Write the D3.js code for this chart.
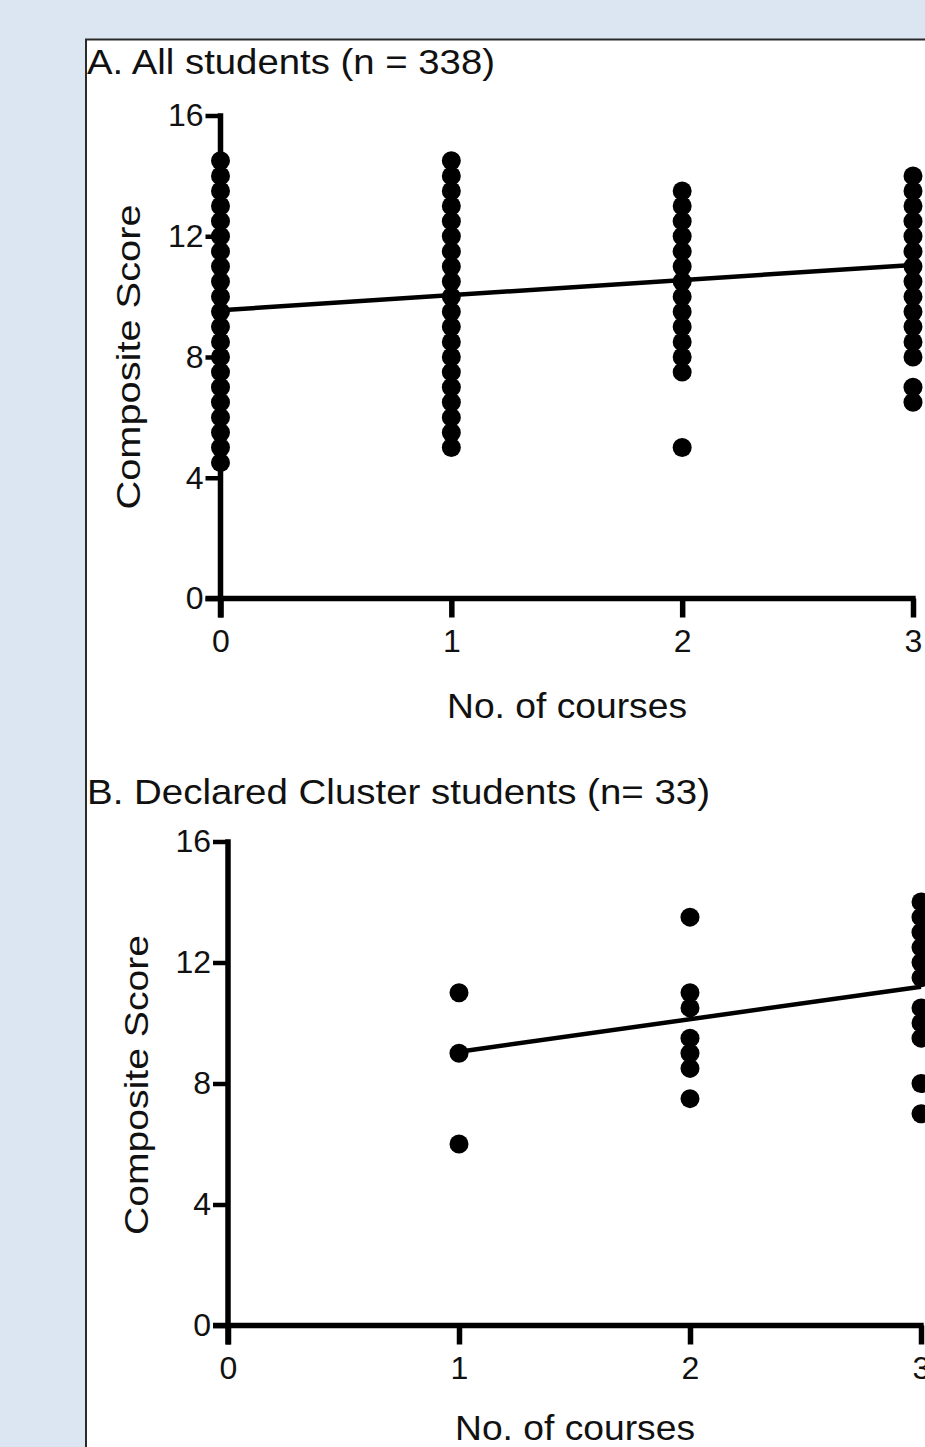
<!DOCTYPE html>
<html>
<head>
<meta charset="utf-8">
<script src="https://cdn.jsdelivr.net/npm/d3@7"></script>
<style>
  html, body { margin: 0; padding: 0; background: #dce6f2; }
  svg { display: block; }
  text { font-family: "Liberation Sans", Arial, sans-serif; fill: #111; }
</style>
</head>
<body>
<svg id="chart" width="925" height="1447"></svg>
<script>
// ---------- data ----------
const xTicks = [0, 1, 2, 3];
const yTicks = [0, 4, 8, 12, 16];

// Panel A: all students
const titleA = "A. All students (n = 338)";
const scoresA0 = [4.5,5,5.5,6,6.5,7,7.5,8,8.5,9,9.5,10,10.5,11,11.5,12,12.5,13,13.5,14,14.5];
const scoresA1 = [5,5.5,6,6.5,7,7.5,8,8.5,9,9.5,10,10.5,11,11.5,12,12.5,13,13.5,14,14.5];
const scoresA2 = [5,7.5,8,8.5,9,9.5,10,10.5,11,11.5,12,12.5,13,13.5];
const scoresA3 = [6.5,7,8,8.5,9,9.5,10,10.5,11,11.5,12,12.5,13,13.5,14];
const fitA = [{x: 0, y: 9.55}, {x: 3, y: 11.05}];

// Panel B: declared cluster students
const titleB = "B. Declared Cluster students (n= 33)";
const scoresB1 = [6, 9, 11];
const scoresB2 = [7.5, 8.5, 9, 9.5, 10.5, 11, 13.5];
const scoresB3 = [7, 8, 9.5, 10, 10.5, 11.5, 12, 12.5, 13, 13.5, 14];
const fitB = [{x: 1, y: 9.05}, {x: 3, y: 11.2}];

const xLabel = "No. of courses";
const yLabel = "Composite Score";

// ---------- drawing ----------
const svg = d3.select("#chart");

svg.append("rect")
  .attr("x", 86).attr("y", 39.5)
  .attr("width", 1200).attr("height", 2000)
  .attr("fill", "#ffffff").attr("stroke", "#2a2a2a").attr("stroke-width", 2);

function panel(cfg) {
  const g = svg.append("g");
  const x = d3.scaleLinear().domain([0, 3]).range([cfg.x0, cfg.x3]);
  const y = d3.scaleLinear().domain([0, 16]).range([cfg.y0, cfg.y16]);

  // title
  g.append("text")
    .attr("x", 87).attr("y", cfg.titleY)
    .attr("font-size", 35)
    .attr("textLength", cfg.titleLen).attr("lengthAdjust", "spacingAndGlyphs")
    .text(cfg.title);

  // y axis
  const yAxis = d3.axisLeft(y).tickValues(yTicks).tickSize(15).tickPadding(2).tickFormat(d3.format("d"));
  const ya = g.append("g").attr("transform", `translate(${cfg.x0},0)`).call(yAxis);
  ya.select(".domain").remove();
  ya.selectAll(".tick line").attr("stroke", "#000").attr("stroke-width", 4.5);
  ya.selectAll(".tick text").attr("font-size", 32).attr("fill", "#111")
    .attr("font-family", "Liberation Sans, Arial, sans-serif");
  g.append("line")
    .attr("x1", cfg.x0).attr("x2", cfg.x0)
    .attr("y1", y(16) - 2.2).attr("y2", y(0) + 19)
    .attr("stroke", "#000").attr("stroke-width", 5.5);

  // x axis
  const xAxis = d3.axisBottom(x).tickValues(xTicks).tickSize(19).tickPadding(12).tickFormat(d3.format("d"));
  const xa = g.append("g").attr("transform", `translate(0,${cfg.y0})`).call(xAxis);
  xa.select(".domain").remove();
  xa.selectAll(".tick line").attr("stroke", "#000").attr("stroke-width", 5.5);
  xa.selectAll(".tick text").attr("font-size", 32).attr("fill", "#111")
    .attr("font-family", "Liberation Sans, Arial, sans-serif");
  g.append("line")
    .attr("x1", cfg.x0 - 15).attr("x2", x(3) + 2.7)
    .attr("y1", cfg.y0).attr("y2", cfg.y0)
    .attr("stroke", "#000").attr("stroke-width", 5.5);

  // axis labels
  g.append("text")
    .attr("x", cfg.xLabelX).attr("y", cfg.xLabelY)
    .attr("text-anchor", "middle").attr("font-size", 35)
    .attr("textLength", 240).attr("lengthAdjust", "spacingAndGlyphs")
    .text(xLabel);
  g.append("text")
    .attr("transform", `translate(${cfg.yLabelX},${cfg.yLabelY}) rotate(-90)`)
    .attr("text-anchor", "middle").attr("font-size", 33)
    .attr("textLength", cfg.yLabelLen).attr("lengthAdjust", "spacingAndGlyphs")
    .text(yLabel);

  // dots
  cfg.columns.forEach(col => {
    g.append("g").selectAll("circle")
      .data(col.scores)
      .join("circle")
      .attr("cx", x(col.x))
      .attr("cy", d => y(d))
      .attr("r", 9.5)
      .attr("fill", "#000");
  });

  // regression line
  g.append("path")
    .datum(cfg.fit)
    .attr("d", d3.line().x(d => x(d.x)).y(d => y(d.y)))
    .attr("fill", "none").attr("stroke", "#000").attr("stroke-width", 4.5);
}

panel({
  title: titleA, titleY: 74, titleLen: 408,
  x0: 220.5, x3: 913, y0: 598.5, y16: 115.5,
  xLabelX: 567, xLabelY: 718,
  yLabelX: 140, yLabelY: 357, yLabelLen: 305,
  columns: [
    {x: 0, scores: scoresA0},
    {x: 1, scores: scoresA1},
    {x: 2, scores: scoresA2},
    {x: 3, scores: scoresA3}
  ],
  fit: fitA
});

panel({
  title: titleB, titleY: 804, titleLen: 623,
  x0: 228, x3: 921, y0: 1325.5, y16: 841.5,
  xLabelX: 575, xLabelY: 1440,
  yLabelX: 148, yLabelY: 1085, yLabelLen: 300,
  columns: [
    {x: 1, scores: scoresB1},
    {x: 2, scores: scoresB2},
    {x: 3, scores: scoresB3}
  ],
  fit: fitB
});
</script>
</body>
</html>
